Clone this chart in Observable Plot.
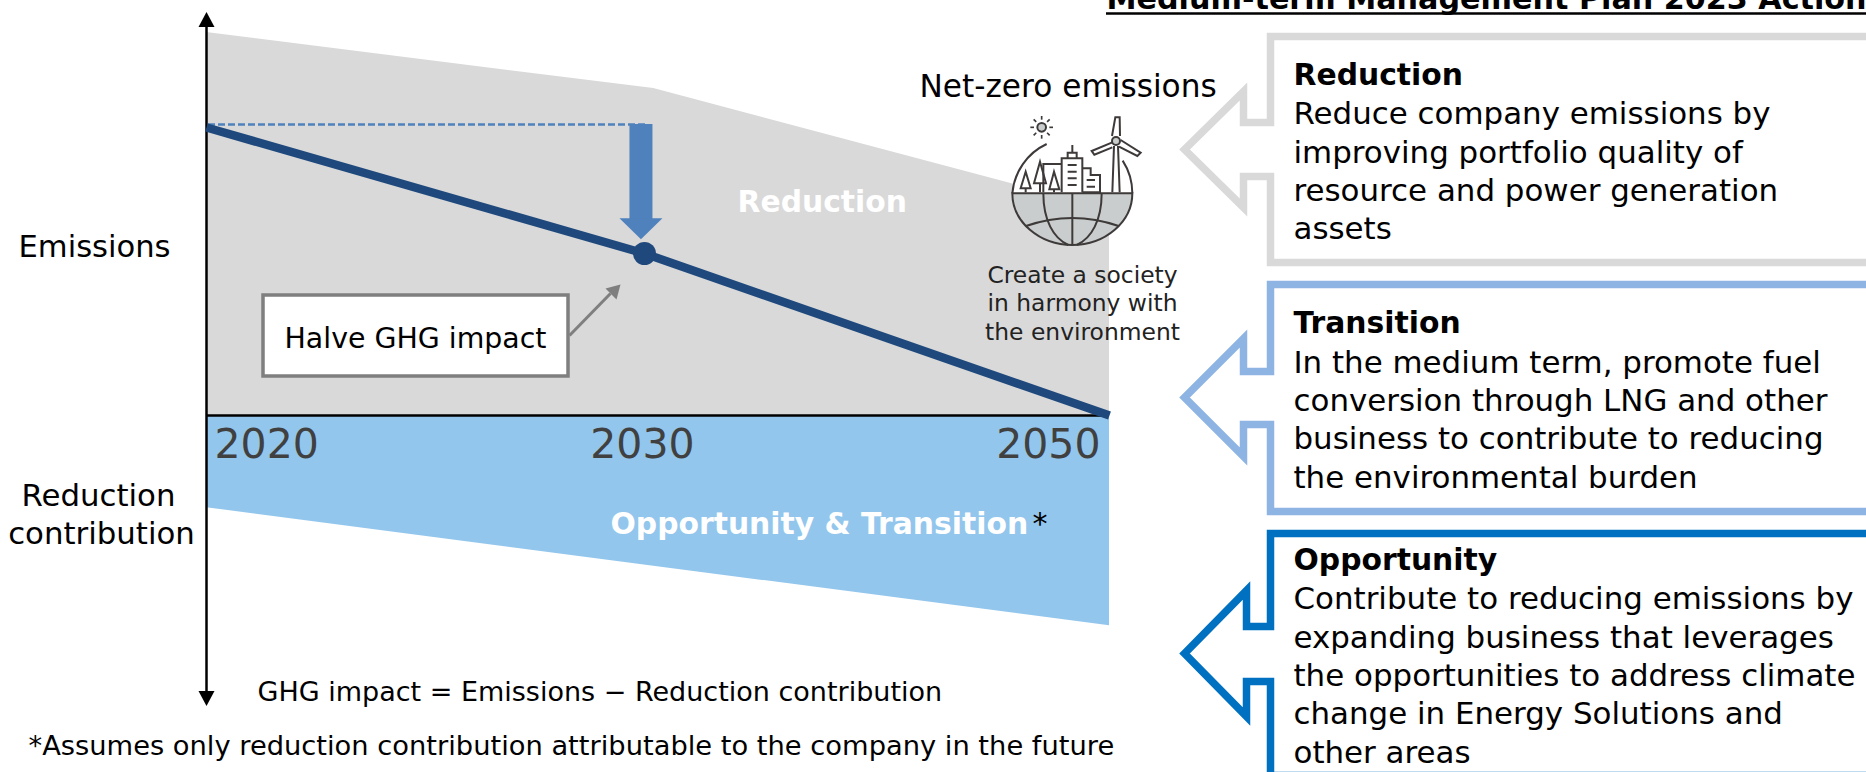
<!DOCTYPE html>
<html>
<head>
<meta charset="utf-8">
<script src="https://cdn.jsdelivr.net/npm/d3@7"></script>
<script src="https://cdn.jsdelivr.net/npm/@observablehq/plot@0.6"></script>
<style>
html,body{margin:0;padding:0;background:#fff;overflow:hidden}
#stage{position:relative;width:1866px;height:772px;overflow:hidden}
#stage svg{position:absolute;left:0;top:0;background:transparent;overflow:hidden}
</style>
</head>
<body>
<div id="stage"></div>
<script>
// ---- chart values (emissions index, 2020 net line = 100) ----
const tickYears = [2020, 2030, 2050];
const netYears = [2020, 2030, 2050];
const netValues = [100, 56.25, 0];
const emissionYears = [2020, 2030.4, 2050];
const emissionValues = [133, 113.5, 71.5];
const contributionYears = [2020, 2050];
const contributionValues = [-32, -73];

// ---- texts ----
const titleText = "Medium-term Management Plan 2023 Actions";
const panelHeads = ["Reduction", "Transition", "Opportunity"];
const panelBodies = [
  ["Reduce company emissions by", "improving portfolio quality of", "resource and power generation", "assets"],
  ["In the medium term, promote fuel", "conversion through LNG and other", "business to contribute to reducing", "the environmental burden"],
  ["Contribute to reducing emissions by", "expanding business that leverages", "the opportunities to address climate", "change in Energy Solutions and", "other areas"]
];
const societyLines = ["Create a society", "in harmony with", "the environment"];

// the schematic time axis is not to scale: 2030 sits just short of the middle
const axisPos = d3.scaleLinear().domain(tickYears).range([0, 0.485, 1]);
const rowsOf = (years, values) => years.map((year, i) => ({year, pos: axisPos(year), value: values[i]}));
const netRows = rowsOf(netYears, netValues);
const emissionRows = rowsOf(emissionYears, emissionValues);
const contributionRows = rowsOf(contributionYears, contributionValues);
const tickRows = rowsOf(tickYears, tickYears.map(() => 0));

const font = "'DejaVu Sans', Verdana, sans-serif";
const triangle = (w, h, dir) => ({draw(c) {
  c.moveTo(0, dir * h); c.lineTo(-w / 2, 0); c.lineTo(w / 2, 0); c.closePath();
}});

const chart = Plot.plot({
  width: 1866, height: 772, margin: 0,
  style: {fontFamily: font, background: "transparent"},
  x: {domain: [0, 1], range: [206, 1109], axis: null},
  y: {domain: [100, 0], range: [127, 415], axis: null},
  marks: [
    Plot.areaY(emissionRows, {x: "pos", y1: () => 0, y2: "value", fill: "#d9d9d9"}),
    Plot.areaY(contributionRows, {x: "pos", y1: () => 0, y2: "value", fill: "#93c6ec"}),
    // axes
    Plot.ruleX([0], {y1: 137, y2: -100, stroke: "#000", strokeWidth: 2.5}),
    Plot.dot([{pos: 0, value: 137}], {x: "pos", y: "value", fill: "#000", stroke: null, r: 5, symbol: triangle(16, 15, -1), dy: 6}),
    Plot.dot([{pos: 0, value: -95}], {x: "pos", y: "value", fill: "#000", stroke: null, r: 5, symbol: triangle(16, 15, 1), dy: 2}),
    Plot.ruleY([0], {x1: 0, x2: 1, stroke: "#000", strokeWidth: 2.5}),
    // tick labels
    Plot.text([tickRows[0]], {x: "pos", y: "value", text: d => String(d.year), textAnchor: "start", lineAnchor: "bottom", dx: 8, dy: 42, fontSize: 41, fill: "#404040"}),
    Plot.text([tickRows[1]], {x: "pos", y: "value", text: d => String(d.year), textAnchor: "middle", lineAnchor: "bottom", dx: -2, dy: 42, fontSize: 41, fill: "#404040"}),
    Plot.text([tickRows[2]], {x: "pos", y: "value", text: d => String(d.year), textAnchor: "end", lineAnchor: "bottom", dx: -9, dy: 42, fontSize: 41, fill: "#404040"}),
    // halving marker
    Plot.ruleY([101], {x1: 0, x2: netRows[1].pos, dx: 2, stroke: "#4f81bd", strokeWidth: 2.5, strokeDasharray: "7 3"}),
    Plot.ruleX([netRows[1].pos], {y1: 101, y2: 68, dx: -3.5, stroke: "#4f81bd", strokeWidth: 23}),
    Plot.dot([{pos: netRows[1].pos, value: 68.5}], {x: "pos", y: "value", dx: -3.5, fill: "#4f81bd", stroke: null, r: 5, symbol: triangle(43, 21, 1)}),
    // net line
    Plot.line(netRows, {x: "pos", y: "value", stroke: "#1f497d", strokeWidth: 8.5, strokeLinecap: "butt", strokeLinejoin: "miter", curve: "linear"}),
    Plot.dot([netRows[1]], {x: "pos", y: "value", fill: "#1f497d", stroke: null, r: 11.5})
  ]
});

// ---- overlay: annotation text, call-out panels, icon (page layout positions) ----
const panelOutlines = [
  {color: "#d9d9d9", top: 36, bottom: 262, n1: 122, n2: 176, tip: 149, a: 58},
  {color: "#8eb4e3", top: 284, bottom: 511, n1: 371, n2: 424, tip: 397, a: 59},
  {color: "#0070c0", top: 533, bottom: 775, n1: 626, n2: 681, tip: 653, a: 63, sx: 1246}
];
const outlinePts = p => {
  const s = p.sx ?? 1243, bx = 1270, r = 1870;
  return [[r, p.top], [bx, p.top], [bx, p.n1], [s, p.n1], [s, p.tip - p.a], [1184, p.tip], [s, p.tip + p.a], [s, p.n2], [bx, p.n2], [bx, p.bottom], [r, p.bottom]];
};
const panelBaselines = [[84, 123, 162, 200, 238], [332, 372, 410, 448, 487], [569, 608, 647, 685, 723, 762]];
const panelTextX = 1293, panelSize = 30.9, headSize = 29.8;
const panelMarks = [];
panelOutlines.forEach((p, i) => {
  panelMarks.push(Plot.line(outlinePts(p), {x: d => d[0], y: d => d[1], fill: "#fff", stroke: p.color, strokeWidth: 7.5, strokeLinejoin: "miter", strokeMiterlimit: 10, strokeLinecap: "butt"}));
  const rows = [{t: panelHeads[i], w: "bold", s: headSize}, ...panelBodies[i].map(t => ({t, w: "normal", s: panelSize}))];
  rows.forEach((row, j) => {
    panelMarks.push(Plot.text([row.t], {x: panelTextX, y: panelBaselines[i][j], text: d => d, textAnchor: "start", lineAnchor: "bottom", fontSize: row.s, fontWeight: row.w, fill: "#000"}));
  });
});
const label = (t, x, y, size, opts = {}) => Plot.text([t], {x, y, text: d => d, lineAnchor: "bottom", textAnchor: "start", fontSize: size, fill: "#000", ...opts});

const icon = (idx, scales) => {
  const g = d3.create("svg:g").attr("transform", `translate(${scales.x(880)},${scales.y(60)}) scale(${1 / 3})`)
    .attr("fill", "none").attr("stroke", "#3e3a39").attr("stroke-width", 6);
  g.append("path").attr("fill", "#fff").attr("stroke", "none").attr("d", "M397,400A180,180 0 0 1 757,400A180,155 0 0 1 397,400Z");
  g.append("path").attr("fill", "#c9cdcd").attr("d", "M397,400A180,155 0 0 0 757,400Z");
  const paths = [
    "M397,400A180,180 0 0 1 500,252", "M757,400A180,180 0 0 0 728,302",
    "M577,400V555", "M490,400C490,480 520,535 565,555", "M665,400C665,480 635,535 590,555", "M438,498Q577,450 716,498",
    "M577,255V278", "M563,295V278H590V295", "M545,397V295H607V397", "M563,315H590M563,335H590M563,355H590M563,375H590",
    "M545,312H490V397", "M607,325H632V345H660V397H607", "M620,360H645M620,380H645",
    "M437,335L422,385H452Z", "M437,385V397",
    "M480,305L462,370H498Z", "M480,370V397",
    "M522,335L508,388H538Z", "M522,388V397",
    "M697,397L702,258M719,397L714,258",
    "M696,228L706,172H719L720,228",
    "M697,247L635,273L643,284L697,262",
    "M722,240L782,278L772,288L717,260"
  ];
  for (const d of paths) g.append("path").attr("d", d);
  g.append("circle").attr("cx", 708).attr("cy", 243).attr("r", 12).attr("fill", "#c9cdcd");
  g.append("circle").attr("cx", 485).attr("cy", 202).attr("r", 13).attr("fill", "#c9cdcd");
  for (let k = 0; k < 8; k++) {
    const a = k * Math.PI / 4;
    g.append("line").attr("stroke-width", 5)
      .attr("x1", 485 + 23 * Math.cos(a)).attr("y1", 202 + 23 * Math.sin(a))
      .attr("x2", 485 + 34 * Math.cos(a)).attr("y2", 202 + 34 * Math.sin(a));
  }
  return g.node();
};
const calloutHead = {draw(c) { c.moveTo(0, 0); c.lineTo(-15, 4); c.lineTo(-4, 15); c.closePath(); }};

const overlay = Plot.plot({
  width: 1866, height: 772, margin: 0,
  style: {fontFamily: font, background: "transparent"},
  x: {type: "identity", axis: null}, y: {type: "identity", axis: null},
  marks: [
    icon,
    // title
    label(titleText, 1106, 8, 30.2, {fontWeight: "bold"}),
    Plot.ruleY([13], {x1: 1106, x2: 1866, stroke: "#000", strokeWidth: 2.5}),
    // panels
    ...panelMarks,
    // halve box
    Plot.rect([0], {x1: 263, x2: 568, y1: 295, y2: 376, fill: "#fff", stroke: "#7f7f7f", strokeWidth: 3.5}),
    label("Halve GHG impact", 415, 347, 28.4, {textAnchor: "middle"}),
    Plot.link([0], {x1: 569, y1: 335, x2: 610, y2: 293, stroke: "#7f7f7f", strokeWidth: 3}),
    Plot.dot([0], {x: () => 620, y: () => 284, r: 5, fill: "#7f7f7f", stroke: null, symbol: calloutHead}),
    // labels
    label("Emissions", 18, 256, 30.6),
    label("Reduction", 98, 505, 30.8, {textAnchor: "middle"}),
    label("contribution", 101, 543, 30.8, {textAnchor: "middle"}),
    label("Reduction", 737, 211, 29.8, {fontWeight: "bold", fill: "#fff"}),
    label("Opportunity & Transition", 610, 533, 29.8, {fontWeight: "bold", fill: "#fff"}),
    label("*", 1032, 533, 30),
    label("GHG impact = Emissions \u2212 Reduction contribution", 257, 700, 27),
    label("*Assumes only reduction contribution attributable to the company in the future", 28, 754, 27.3),
    label("Net-zero emissions", 919, 96, 31.2),
    ...societyLines.map((t, i) => label(t, 1082, [282, 310, 339][i], 23.4, {textAnchor: "middle", fill: "#222"}))
  ]
});

document.getElementById("stage").append(chart, overlay);
</script>
</body>
</html>
